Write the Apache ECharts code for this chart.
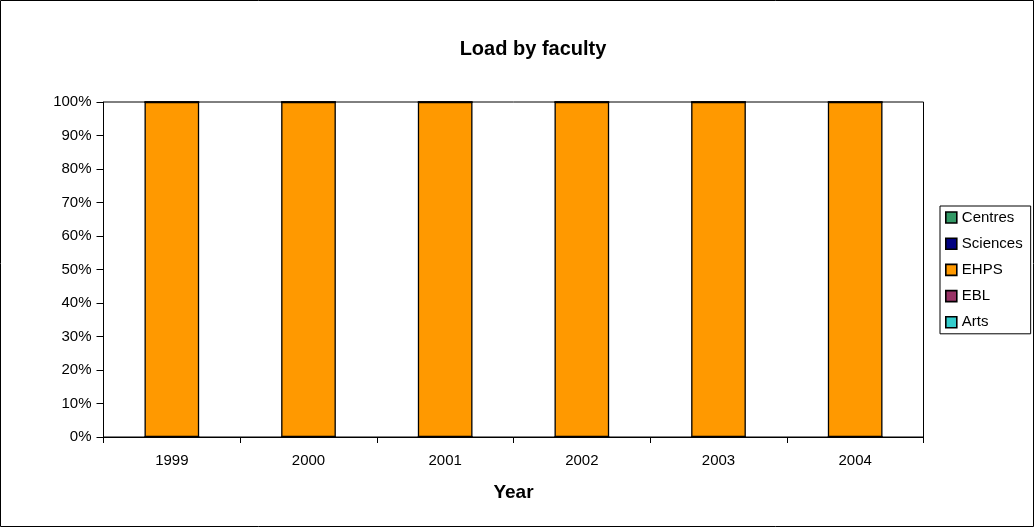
<!DOCTYPE html>
<html><head><meta charset="utf-8">
<script src="https://cdn.jsdelivr.net/npm/echarts@6/dist/echarts.min.js"></script>
<style>html,body{margin:0;padding:0;background:#fff}#c{width:1035px;height:528px}</style>
</head><body><div id="c"></div>
<script>
const years = ['1999','2000','2001','2002','2003','2004'];
const arts = [0,0,0,0,0,0];
const ebl = [0,0,0,0,0,0];
const ehps = [100,100,100,100,100,100];
const sciences = [0,0,0,0,0,0];
const centres = [0,0,0,0,0,0];
const yTicks = [0,10,20,30,40,50,60,70,80,90,100];

const F = 'Liberation Sans, Arial, sans-serif';
const chart = echarts.init(document.getElementById('c'), null, {renderer:'canvas'});
function s(name, data, color){
  return {name, type:'bar', stack:'all', data, barWidth:'40%',
    itemStyle:{color, borderColor:'#000', borderWidth:1.3}};
}
chart.setOption({
  animation:false,
  title:{text:'Load by faculty', left:528, top:34, textAlign:'center',
    textStyle:{fontFamily:F, fontSize:20, fontWeight:'bold', color:'#000'}},
  graphic:[{type:'rect', shape:{x:0.5,y:0.5,width:1033,height:526}, style:{fill:null, stroke:'#000', lineWidth:1}, silent:true}],
  legend:{orient:'vertical', left:940, top:206,
    data:['Centres','Sciences','EHPS','EBL','Arts'],
    itemWidth:11, itemHeight:11, itemGap:11.2, icon:'rect',
    itemStyle:{borderColor:'#000', borderWidth:1.6},
    padding:[4,8,4,5], borderColor:'#000', borderWidth:1,
    textStyle:{fontFamily:F, fontSize:15, lineHeight:15, color:'#000'}},
  grid:{left:103.5, top:102, width:820, height:335, show:true, borderColor:'#000', borderWidth:1, backgroundColor:'#fff', containLabel:false},
  xAxis:{type:'category', data:years, name:'Year', nameLocation:'middle', nameGap:46,
    nameTextStyle:{fontFamily:F, fontSize:19, fontWeight:'bold', color:'#000'},
    axisLine:{lineStyle:{color:'#000'}},
    axisTick:{show:true, length:6, lineStyle:{color:'#000'}},
    axisLabel:{fontFamily:F, fontSize:15, color:'#000', margin:16}},
  yAxis:{type:'value', min:0, max:100, interval:10,
    axisLine:{show:true, lineStyle:{color:'#000'}},
    axisTick:{show:true, length:7, lineStyle:{color:'#000'}},
    splitLine:{show:false},
    axisLabel:{fontFamily:F, fontSize:15, color:'#000', margin:12,
      formatter:v=> yTicks.includes(v) ? v+'%' : ''}},
  series:[
    s('Arts', arts, '#33CCCC'),
    s('EBL', ebl, '#993366'),
    s('EHPS', ehps, '#FF9900'),
    s('Sciences', sciences, '#000080'),
    s('Centres', centres, '#339966')
  ]
});
</script></body></html>
